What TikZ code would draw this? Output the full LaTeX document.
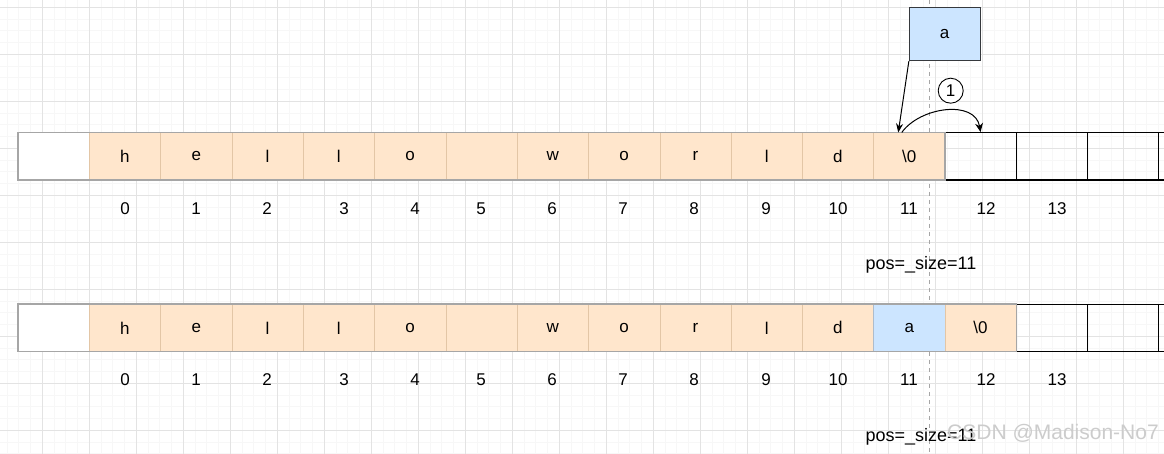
\documentclass[tikz,border=0pt]{standalone}
\usepackage{fontspec}
\setmainfont{Liberation Sans}
\usetikzlibrary{arrows.meta}
\definecolor{laranja}{HTML}{FFE6CC}
\definecolor{bordalaranja}{HTML}{E3C6A6}
\definecolor{azul}{HTML}{CCE5FF}
\definecolor{bordaazul}{HTML}{36393D}
\tikzset{
	cell/.style={draw=bordalaranja, fill=laranja, minimum width=71.3pt, minimum height=47.3pt, inner sep=0pt, font=\fontsize{17}{20}\selectfont},
	freecell/.style={cell, draw=black, fill=none, line width=1.2pt},
	firstcell/.style={cell, draw=gray!70, fill=white},
	idx/.style={font=\fontsize{17}{20}\selectfont},
	minorgrid/.style={draw=gray!6, line width=0.8pt},
	majorgrid/.style={draw=gray!22, line width=0.8pt}
}
\begin{document}
\begin{tikzpicture}[x=1pt,y=-1pt]
		\clip (0,0) rectangle (1164,454);
		\fill[white] (0,0) rectangle (1164,454);						% Fundo
		
		% Grade
		\foreach \i in {0,...,100} {\draw[minorgrid] ({-4.7+11.75*\i},0) -- ++(0,454);}
		\foreach \i in {0,...,39} {\draw[minorgrid] (0,{-4.45+11.75*\i}) -- ++(1164,0);}
		\foreach \i in {-1,...,24} {\draw[majorgrid] ({42.3+47*\i},0) -- ++(0,454);}
		\foreach \i in {0,...,9} {\draw[majorgrid] (0,{7.3+47*\i}) -- ++(1164,0);}
		\draw[gray!70, dash pattern=on 4pt off 4pt] (929.3,0) -- (929.3,454);	% Linha pos
		
		% Linha de cima
		\node[firstcell] (t0) at (53.65,156.35) {};
		\foreach \ch [count=\k] in {h,e,l,l,o,{},w,o,r,l,d,{\textbackslash0}}
			\node[cell] (t\k) at ({53.65+71.3*\k},156.35) {\ch};
		\foreach \k in {13,14,15,16}
			\node[freecell] (t\k) at ({53.65+71.3*\k},156.35) {};
		\draw[gray!70, line width=1.4pt] (t0.north west) rectangle (t12.south east);
		\foreach \i/\x in {0/125,1/196,2/267,3/344,4/415,5/481,6/552,7/623,8/694,9/766,10/838,11/909,12/986,13/1057}
			\node[idx] (ti\i) at (\x,209) {\i};
		\node[font=\fontsize{18}{21}\selectfont] (pos1) at (921,265) {pos=\_size=11};
		
		% Linha de baixo
		\node[firstcell] (b0) at (53.65,327.85) {};
		\foreach \ch [count=\k] in {h,e,l,l,o,{},w,o,r,l,d}
			\node[cell] (b\k) at ({53.65+71.3*\k},327.85) {\ch};
		\node[cell, fill=azul, draw=azul!60!gray] (b12) at ({53.65+71.3*12},327.85) {a};
		\node[cell] (b13) at ({53.65+71.3*13},327.85) {\textbackslash0};
		\foreach \k in {14,15,16}
			\node[freecell] (b\k) at ({53.65+71.3*\k},327.85) {};
		\draw[gray!70, line width=1.4pt] (b0.north west) rectangle (b13.south east);
		\foreach \i/\x in {0/125,1/196,2/267,3/344,4/415,5/481,6/552,7/623,8/694,9/766,10/838,11/909,12/986,13/1057}
			\node[idx] (bi\i) at (\x,380) {\i};
		\node[font=\fontsize{18}{21}\selectfont] (pos2) at (921,437) {pos=\_size=11};
		
		% Caractere inserido
		\node[cell, fill=azul, draw=bordaazul, line width=0.9pt, minimum width=70.7pt, minimum height=53.4pt] (abox) at (944.65,34) {a};
		\node[circle, draw, fill=white, line width=0.9pt, minimum size=25pt, inner sep=0pt, font=\fontsize{17}{20}\selectfont] (passo) at (950.7,90.7) {1};
		
		% Setas
		\draw[-{Stealth[length=9pt,width=7pt]}, line width=1pt] (abox.south west) -- ([xshift=-11pt]t12.north);
		\draw[-{Stealth[length=9pt,width=8pt,inset=3pt]}, line width=1pt] ([xshift=-7.5pt]t12.north) .. controls +(18.3,-25.7) and +(-5.5,-32.7) .. (t13.north);
		
		\node[text=gray!40, font=\fontsize{21}{24}\selectfont] (marca) at (1053,433) {CSDN @Madison-No7};	% Marca d'agua
	\end{tikzpicture}
\end{document}
